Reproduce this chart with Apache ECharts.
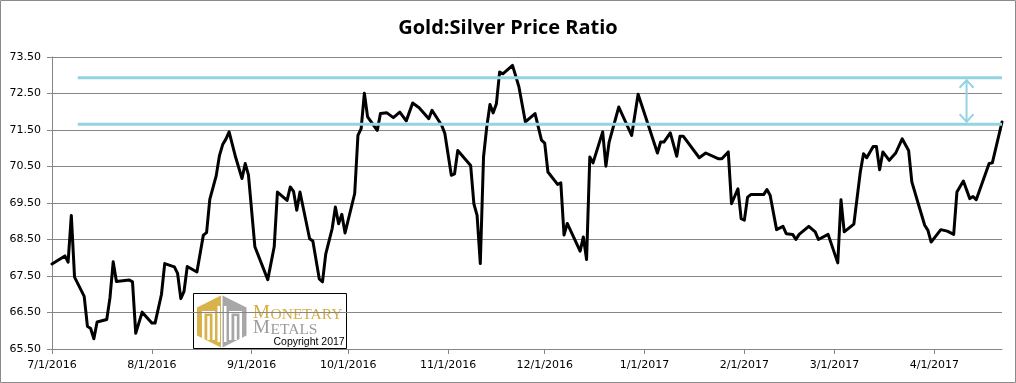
<!DOCTYPE html>
<html>
<head>
<meta charset="utf-8">
<script src="https://cdn.jsdelivr.net/npm/echarts@6/dist/echarts.min.js"></script>
<style>html,body{margin:0;padding:0;background:#fff}#c{width:1016px;height:383px}</style>
</head>
<body>
<div id="c"></div>
<script>
const titleText = 'Gold:Silver Price Ratio';
const dates = [
'2016-07-01','2016-07-05','2016-07-06','2016-07-07','2016-07-08','2016-07-11','2016-07-12','2016-07-13','2016-07-14','2016-07-15','2016-07-18','2016-07-19','2016-07-20','2016-07-21','2016-07-25','2016-07-26','2016-07-27','2016-07-29',
'2016-08-01','2016-08-02','2016-08-04','2016-08-05','2016-08-08','2016-08-09','2016-08-10','2016-08-11','2016-08-12','2016-08-15','2016-08-17','2016-08-18','2016-08-19','2016-08-21','2016-08-22','2016-08-23','2016-08-24','2016-08-25','2016-08-27','2016-08-29','2016-08-30','2016-08-31',
'2016-09-02','2016-09-06','2016-09-08','2016-09-09','2016-09-12','2016-09-13','2016-09-14','2016-09-15','2016-09-16','2016-09-19','2016-09-20','2016-09-22','2016-09-23','2016-09-24','2016-09-26','2016-09-27','2016-09-28','2016-09-29','2016-09-30',
'2016-10-03','2016-10-04','2016-10-05','2016-10-06','2016-10-07','2016-10-10','2016-10-11','2016-10-13','2016-10-15','2016-10-17','2016-10-19','2016-10-21','2016-10-23','2016-10-26','2016-10-27','2016-10-30','2016-10-31',
'2016-11-02','2016-11-03','2016-11-04','2016-11-08','2016-11-09','2016-11-10','2016-11-11','2016-11-12','2016-11-13','2016-11-14','2016-11-15','2016-11-16','2016-11-17','2016-11-18','2016-11-21','2016-11-23','2016-11-25','2016-11-28','2016-11-30',
'2016-12-01','2016-12-02','2016-12-05','2016-12-06','2016-12-07','2016-12-08','2016-12-12','2016-12-13','2016-12-14','2016-12-15','2016-12-16','2016-12-19','2016-12-20','2016-12-21','2016-12-22','2016-12-24','2016-12-28','2016-12-30',
'2017-01-02','2017-01-05','2017-01-06','2017-01-07','2017-01-09','2017-01-11','2017-01-12','2017-01-13','2017-01-18','2017-01-20','2017-01-24','2017-01-25','2017-01-27','2017-01-28','2017-01-30','2017-01-31',
'2017-02-01','2017-02-02','2017-02-03','2017-02-07','2017-02-08','2017-02-09','2017-02-11','2017-02-13','2017-02-14','2017-02-16','2017-02-17','2017-02-18','2017-02-21','2017-02-23','2017-02-24','2017-02-27',
'2017-03-02','2017-03-03','2017-03-04','2017-03-07','2017-03-09','2017-03-10','2017-03-11','2017-03-13','2017-03-14','2017-03-15','2017-03-16','2017-03-18','2017-03-20','2017-03-22','2017-03-24','2017-03-25','2017-03-27','2017-03-29','2017-03-30','2017-03-31',
'2017-04-03','2017-04-05','2017-04-07','2017-04-08','2017-04-10','2017-04-12','2017-04-13','2017-04-14','2017-04-18','2017-04-19','2017-04-22'
];
const ratio = [
67.83,68.05,67.88,69.16,67.47,66.94,66.12,66.06,65.78,66.24,66.31,66.90,67.89,67.35,67.39,67.34,65.93,66.51,
66.21,66.21,67.00,67.84,67.75,67.57,66.88,67.08,67.76,67.61,68.62,68.69,69.60,70.25,70.80,71.10,71.25,71.45,70.76,70.17,70.58,70.27,
68.30,67.40,68.30,69.80,69.57,69.94,69.82,69.30,69.80,68.52,68.46,67.42,67.34,68.10,68.80,69.39,68.93,69.19,68.68,
69.76,71.35,71.54,72.51,71.86,71.49,71.95,71.97,71.84,71.99,71.75,72.24,72.11,71.81,72.04,71.63,71.40,
70.26,70.30,70.94,70.53,69.48,69.16,67.84,70.76,71.58,72.20,71.97,72.22,73.09,73.04,73.27,72.68,71.72,71.95,71.22,
71.14,70.35,70.01,70.05,68.62,68.94,68.18,68.57,67.95,70.76,70.60,71.45,70.51,71.17,71.49,72.13,71.35,72.48,
71.68,70.87,71.17,71.17,71.42,70.78,71.33,71.33,70.74,70.87,70.71,70.71,70.90,69.48,69.89,69.07,
69.03,69.66,69.73,69.73,69.87,69.71,68.77,68.86,68.66,68.64,68.50,68.64,68.86,68.71,68.50,68.64,
67.86,69.59,68.71,68.92,70.35,70.85,70.74,71.05,71.05,70.41,70.90,70.67,70.87,71.26,70.94,70.08,69.48,68.89,68.75,68.43,
68.77,68.73,68.64,69.80,70.10,69.62,69.68,69.59,70.58,70.60,71.72
];
const tickLabels = ['7/1/2016','8/1/2016','9/1/2016','10/1/2016','11/1/2016','12/1/2016','1/1/2017','2/1/2017','3/1/2017','4/1/2017'];
const axisStart = '2016-07-01';
const axisEnd = '2017-04-22';
const yMin = 65.5, yMax = 73.5, yStep = 1;
const bandLevels = [72.93, 71.66];
const bandStart = '2016-07-09';
const bandEnd = '2017-04-22';
const arrowDate = '2017-04-11';

function ts(s){ const p = s.split('-').map(Number); return new Date(p[0], p[1]-1, p[2]).getTime(); }
function tsUS(s){ const p = s.split('/').map(Number); return new Date(p[2], p[0]-1, p[1]).getTime(); }
function fmt(v){ const d = new Date(v); return (d.getMonth()+1)+'/'+d.getDate()+'/'+d.getFullYear(); }

const tickValues = tickLabels.map(tsUS);
const lineData = dates.map((d,i)=>[ts(d), ratio[i]]);
const CYAN = '#95D3E3';
const GRID = '#868686';
const AXFONT = {fontFamily:'DejaVu Sans', fontSize:11, color:'#000'};

const chart = echarts.init(document.getElementById('c'), null, {renderer:'canvas'});
const bandSeries = bandLevels.map(v=>({
  type:'line', data:[[ts(bandStart), v],[ts(bandEnd), v]], symbol:'none', z:5,
  lineStyle:{color:CYAN, width:3}, silent:true, animation:false
}));
chart.setOption({
  animation:false,
  title:{text:titleText, left:'center', top:13, textStyle:{fontFamily:'Open Sans', fontWeight:'bold', fontSize:20, color:'#000'}},
  grid:{left:52, right:14, top:57, bottom:34, containLabel:false},
  xAxis:{
    type:'value', min:ts(axisStart), max:ts(axisEnd), scale:true,
    axisLine:{show:true, onZero:false, lineStyle:{color:GRID, width:1}},
    axisTick:{show:true, length:5, lineStyle:{color:GRID}, customValues:tickValues},
    axisLabel:Object.assign({margin:11, customValues:tickValues, formatter:(v)=>fmt(v), showMinLabel:true, showMaxLabel:true}, AXFONT),
    splitLine:{show:false}
  },
  yAxis:{
    type:'value', min:yMin, max:yMax, interval:yStep,
    axisLine:{show:true, lineStyle:{color:GRID, width:1}},
    axisTick:{show:true, length:5, lineStyle:{color:GRID}},
    axisLabel:Object.assign({margin:11, formatter:(v)=>v.toFixed(2)}, AXFONT),
    splitLine:{show:true, lineStyle:{color:GRID, width:1}}
  },
  series:[
    {type:'line', data:lineData, symbol:'none', z:3, lineStyle:{color:'#000', width:3, join:'round', cap:'round'}, animation:false},
    ...bandSeries,
    {type:'custom', z:6, silent:true, data:[[ts(arrowDate), bandLevels[0], bandLevels[1]]],
     encode:{x:0, y:[1,2]},
     renderItem:function(params, api){
       const x = api.value(0);
       const p1 = api.coord([x, api.value(1)]);
       const p2 = api.coord([x, api.value(2)]);
       const s = {stroke:CYAN, lineWidth:2, fill:null, lineJoin:'miter'};
       const hw = 7, hh = 7.5, t1 = p1[1]+2.5, t2 = p2[1]-2.5;
       return {type:'group', children:[
         {type:'line', shape:{x1:p1[0], y1:t1, x2:p2[0], y2:t2}, style:s},
         {type:'polyline', shape:{points:[[p1[0]-hw,t1+hh],[p1[0],t1],[p1[0]+hw,t1+hh]]}, style:s},
         {type:'polyline', shape:{points:[[p2[0]-hw,t2-hh],[p2[0],t2],[p2[0]+hw,t2-hh]]}, style:s}
       ]};
     }}
  ],
  graphic:[
    {type:'rect', z:100, silent:true, shape:{x:0.5,y:0.5,width:1015,height:382}, style:{fill:'none', stroke:'#8a8a8a', lineWidth:1}},
    {type:'group', z:100, silent:true, children:[
      {type:'rect', shape:{x:193.5,y:293.5,width:153,height:55}, style:{fill:'#fff', stroke:'#000', lineWidth:1}},
      {type:'polygon', shape:{points:[[221,295.5],[221,347.5],[197,335.5],[197,307.5]]}, style:{fill:'#D8B24A'}},
      {type:'polygon', shape:{points:[[222.5,295.5],[222.5,347.5],[246.5,335.5],[246.5,307.5]]}, style:{fill:'#A7A7A7'}},
      {type:'rect', shape:{x:202,y:311,width:2.5,height:29}, style:{fill:'#fff'}},
      {type:'rect', shape:{x:202,y:311,width:13,height:2.5}, style:{fill:'#fff'}},
      {type:'rect', shape:{x:212.5,y:311,width:2.5,height:29}, style:{fill:'#fff'}},
      {type:'rect', shape:{x:207.3,y:316,width:2.5,height:24}, style:{fill:'#fff'}},
      {type:'rect', shape:{x:217.5,y:306,width:2.5,height:36}, style:{fill:'#fff'}},
      {type:'rect', shape:{x:224,y:306,width:2.5,height:36}, style:{fill:'#fff'}},
      {type:'rect', shape:{x:229,y:311,width:2.5,height:29}, style:{fill:'#fff'}},
      {type:'rect', shape:{x:229,y:311,width:13,height:2.5}, style:{fill:'#fff'}},
      {type:'rect', shape:{x:239.5,y:311,width:2.5,height:29}, style:{fill:'#fff'}},
      {type:'rect', shape:{x:234.3,y:316,width:2.5,height:24}, style:{fill:'#fff'}},
      {type:'text', style:{x:253, y:313.3, text:'M', font:'19px "Liberation Serif"', fill:'#D4AD43', verticalAlign:'middle', align:'left'}},
      {type:'text', style:{x:270.5, y:314.6, text:'ONETARY', font:'15.5px "Liberation Serif"', fill:'#D4AD43', verticalAlign:'middle', align:'left'}},
      {type:'text', style:{x:253, y:328.3, text:'M', font:'19px "Liberation Serif"', fill:'#9B9B9B', verticalAlign:'middle', align:'left'}},
      {type:'text', style:{x:270.5, y:329.6, text:'ETALS', font:'15.5px "Liberation Serif"', fill:'#9B9B9B', verticalAlign:'middle', align:'left'}},
      {type:'text', style:{x:273.5, y:342, text:'Copyright 2017', font:'10.5px "Liberation Sans"', fill:'#000', verticalAlign:'middle', align:'left'}}
    ]}
  ]
});
</script>
</body>
</html>
